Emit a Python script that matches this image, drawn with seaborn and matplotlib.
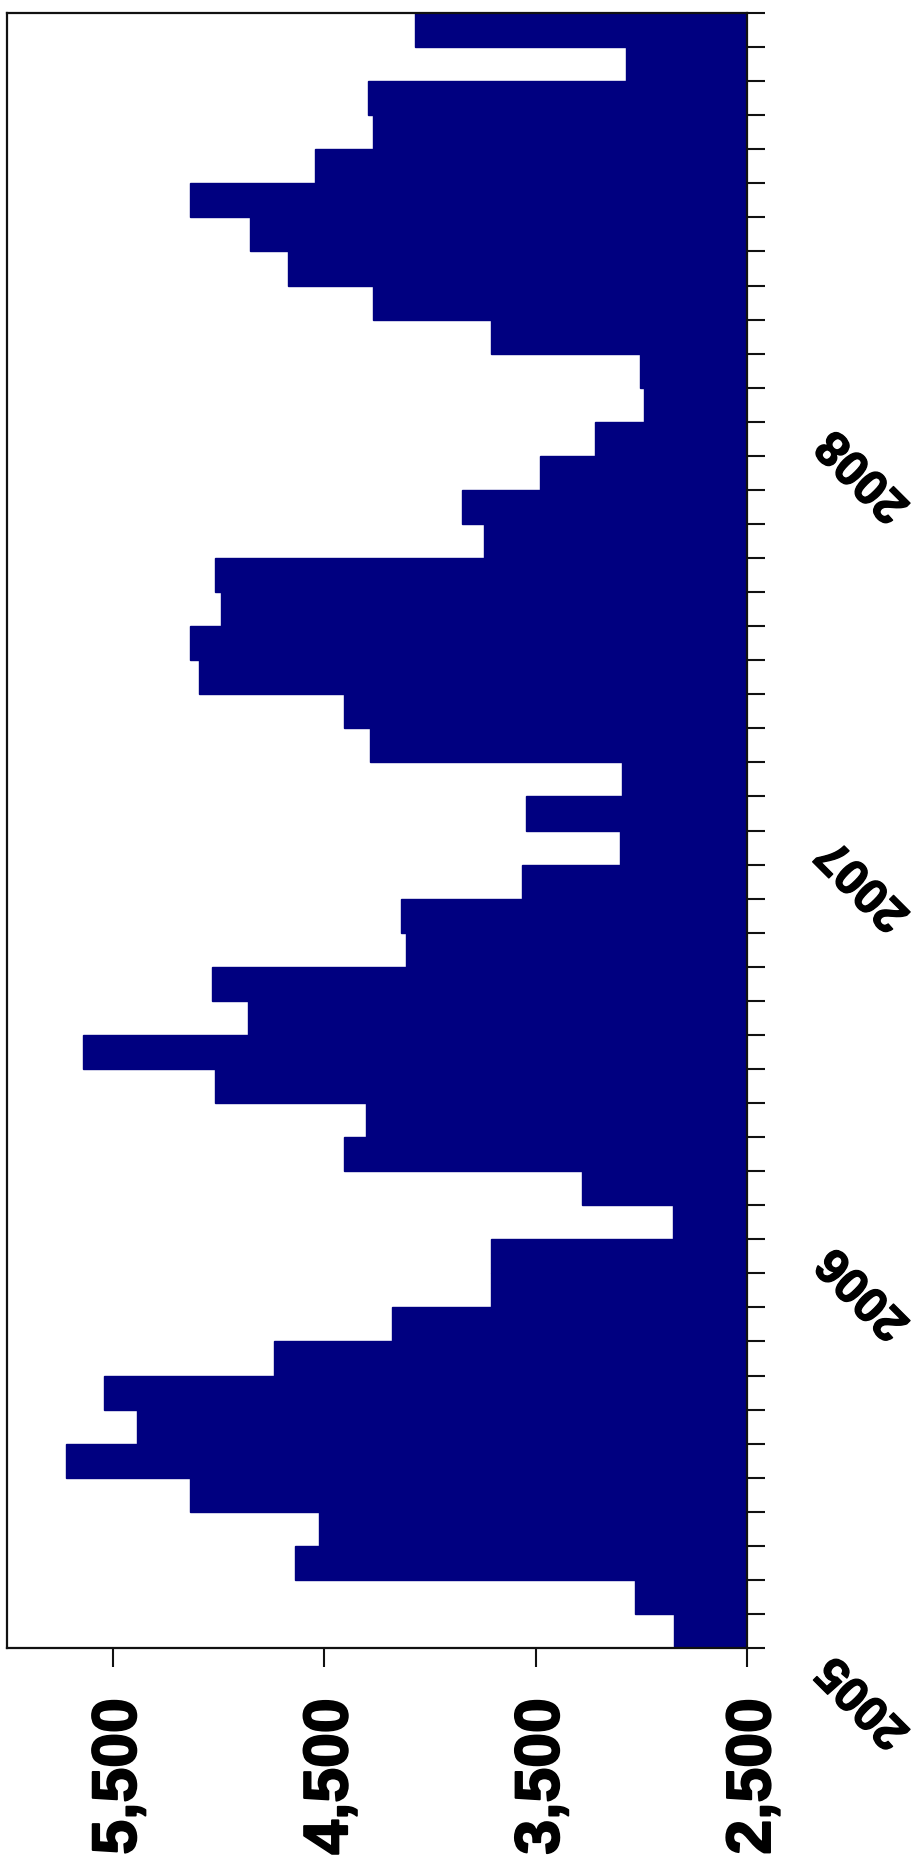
import matplotlib
matplotlib.use("Agg")
import matplotlib.pyplot as plt
import matplotlib.transforms as mtransforms
import matplotlib.patheffects as pe
import numpy as np
import pandas as pd
import seaborn as sns

# ---- data ----
months = [str(p) for p in pd.period_range("2005-01", "2008-12", freq="M")]
values = [
    2847, 3028, 4639, 4524, 5133, 5723, 5385, 5542, 4735, 4177, 3711, 3711,   # 2005
    2849, 3281, 4407, 4303, 5018, 5640, 4862, 5029, 4115, 4136, 3566, 3102,   # 2006
    3543, 3093, 4283, 4407, 5091, 5133, 4988, 5015, 3745, 3848, 3481, 3217,   # 2007
    2985, 3008, 3711, 4269, 4671, 4850, 5133, 4545, 4269, 4292, 3070, 4071,   # 2008
]
year_labels = ["2005", "2006", "2007", "2008"]
value_ticks = [2500, 3500, 4500, 5500]
value_tick_labels = ["2,500", "3,500", "4,500", "5,500"]

df = pd.DataFrame({"month": months, "value": values})

sns.set_theme(style="white")
plt.rcParams["font.family"] = ["Liberation Sans", "DejaVu Sans"]
plt.rcParams["font.weight"] = "bold"

W, H = 922, 1868
fig = plt.figure(figsize=(W / 100, H / 100), dpi=100)
ax = fig.add_axes([7 / W, 1 - 1648 / H, (747 - 7) / W, (1648 - 13) / H])

sns.barplot(data=df, y="month", x="value", orient="h", order=months,
            color="#000080", saturation=1, width=1.0,
            edgecolor="#000080", linewidth=1.0, ax=ax)

n = len(months)
ax.set_ylim(-0.5, n - 0.5)
ax.set_xlim(6000, 2500)
ax.set_xlabel("")
ax.set_ylabel("")

for s in ax.spines.values():
    s.set_visible(True)
    s.set_color("#111111")
    s.set_linewidth(1.6)
    s.set_zorder(5)

heavy = [pe.withStroke(linewidth=1.4, foreground="black")]

# value axis (bottom)
ax.set_xticks(value_ticks)
ax.tick_params(axis="x", bottom=True, length=14, width=1.5, color="#111111",
               pad=22, labelcolor="black")
ax.set_xticklabels(value_tick_labels, rotation=90, fontsize=45, fontweight="bold",
                   rotation_mode="anchor", ha="right", va="center_baseline",
                   color="black")
for lab in ax.get_xticklabels():
    lab.set_path_effects(heavy)

# time axis (right side), a tick at every month boundary
ax.yaxis.tick_right()
ax.set_yticks(np.arange(n + 1) - 0.5)
ax.set_yticklabels([])
ax.tick_params(axis="y", right=True, left=False, length=13, width=1.5, color="#111111")

# year labels at year boundaries
offset = mtransforms.ScaledTranslation(79 / 100, -15 / 100, fig.dpi_scale_trans)
trans = ax.get_yaxis_transform() + offset
year_fx = [pe.withStroke(linewidth=1.0, foreground="black")]
for i, lab in enumerate(year_labels):
    ax.text(1.0, i * 12 - 0.5, lab, transform=trans, rotation=135,
            rotation_mode="anchor", ha="right", va="center",
            fontsize=35, fontweight="bold", color="black", clip_on=False,
            path_effects=year_fx)

fig.savefig("out.png", dpi=100, facecolor="white")
